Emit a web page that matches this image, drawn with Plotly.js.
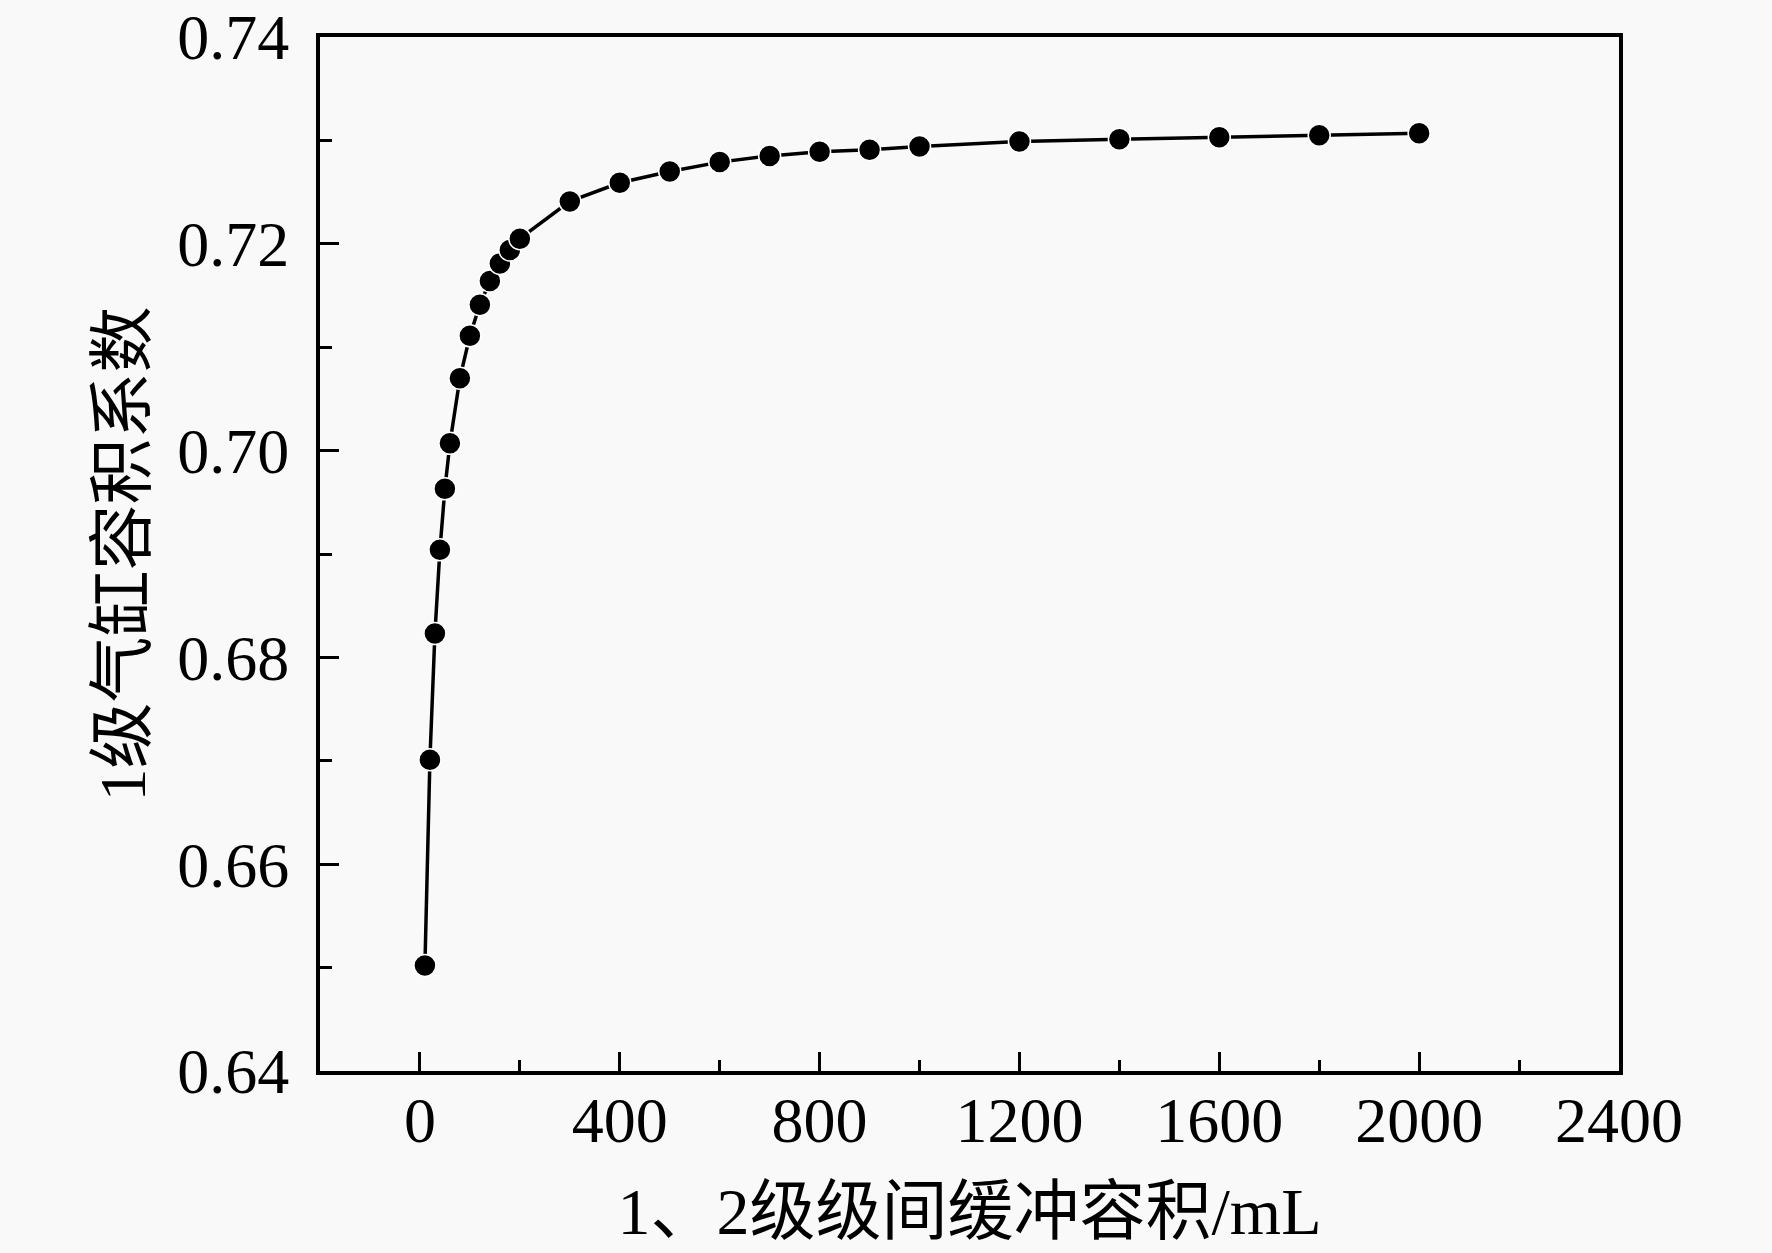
<!DOCTYPE html>
<html>
<head>
<meta charset="utf-8">
<script src="https://cdn.plot.ly/plotly-3.0.1.min.js"></script>
<style>html,body{margin:0;padding:0;background:#f9f9f9;}</style>
</head>
<body>
<div id="chart" style="width:1772px;height:1253px;"></div>
<script>
// buffer volume between stage 1 and 2 (mL)
const bufferVolume = [10, 20, 30, 40, 50, 60, 80, 100, 120, 140, 160, 180, 200, 300, 400, 500, 600, 700, 800, 900, 1000, 1200, 1400, 1600, 1800, 2000];
// stage-1 cylinder volumetric coefficient
const volumeCoef = [0.6502, 0.6701, 0.6823, 0.6904, 0.6963, 0.7007, 0.7070, 0.7111, 0.7141, 0.7164, 0.7181, 0.7194, 0.7205, 0.7241, 0.7259, 0.7270, 0.7279, 0.7285, 0.7289, 0.7291, 0.7294, 0.7299, 0.7301, 0.7303, 0.7305, 0.7307];
const xTickVals = [0, 400, 800, 1200, 1600, 2000, 2400];
const yTickVals = [0.64, 0.66, 0.68, 0.70, 0.72, 0.74];
const yTickText = ['0.64', '0.66', '0.68', '0.70', '0.72', '0.74'];

const serif = 'Liberation Serif, Times New Roman, Noto Sans CJK SC, serif';
const cjk = 'Liberation Serif, Noto Sans CJK SC, serif';

const trace = {
  x: bufferVolume,
  y: volumeCoef,
  type: 'scatter',
  mode: 'lines+markers',
  line: {color: '#000', width: 3.5},
  marker: {color: '#000', size: 22, line: {color: '#ffffff', width: 1.5}},
  showlegend: false
};

const layout = {
  width: 1772,
  height: 1253,
  paper_bgcolor: '#f9f9f9',
  plot_bgcolor: '#f9f9f9',
  margin: {l: 320, r: 153, t: 37, b: 182},
  font: {family: serif, color: '#000'},
  xaxis: {
    range: [-200, 2400],
    tickvals: xTickVals,
    ticks: 'inside',
    ticklen: 19,
    tickwidth: 3,
    tickcolor: '#000',
    minor: {dtick: 200, ticks: 'inside', ticklen: 11, tickwidth: 3, tickcolor: '#000'},
    showline: true,
    linewidth: 4,
    linecolor: '#000',
    mirror: true,
    showgrid: false,
    zeroline: false,
    tickfont: {family: serif, size: 64, color: '#000'},
    ticklabelstandoff: -10,
    ticklabeloverflow: 'allow',
    automargin: false,
    title: {text: '1、2级级间缓冲容积/mL', font: {family: cjk, size: 66, color: '#000'}, standoff: 34}
  },
  yaxis: {
    range: [0.64, 0.74],
    tickvals: yTickVals,
    ticktext: yTickText,
    ticks: 'inside',
    ticklen: 19,
    tickwidth: 3,
    tickcolor: '#000',
    minor: {dtick: 0.01, ticks: 'inside', ticklen: 12, tickwidth: 3, tickcolor: '#000'},
    showline: true,
    linewidth: 4,
    linecolor: '#000',
    mirror: true,
    showgrid: false,
    zeroline: false,
    tickfont: {family: serif, size: 64, color: '#000'},
    ticklabelstandoff: 14,
    ticklabeloverflow: 'allow',
    automargin: false,
    title: {text: '1级气缸容积系数', font: {family: cjk, size: 66, color: '#000'}, standoff: 11}
  }
};

Plotly.newPlot('chart', [trace], layout, {staticPlot: true, displayModeBar: false});
</script>
</body>
</html>
